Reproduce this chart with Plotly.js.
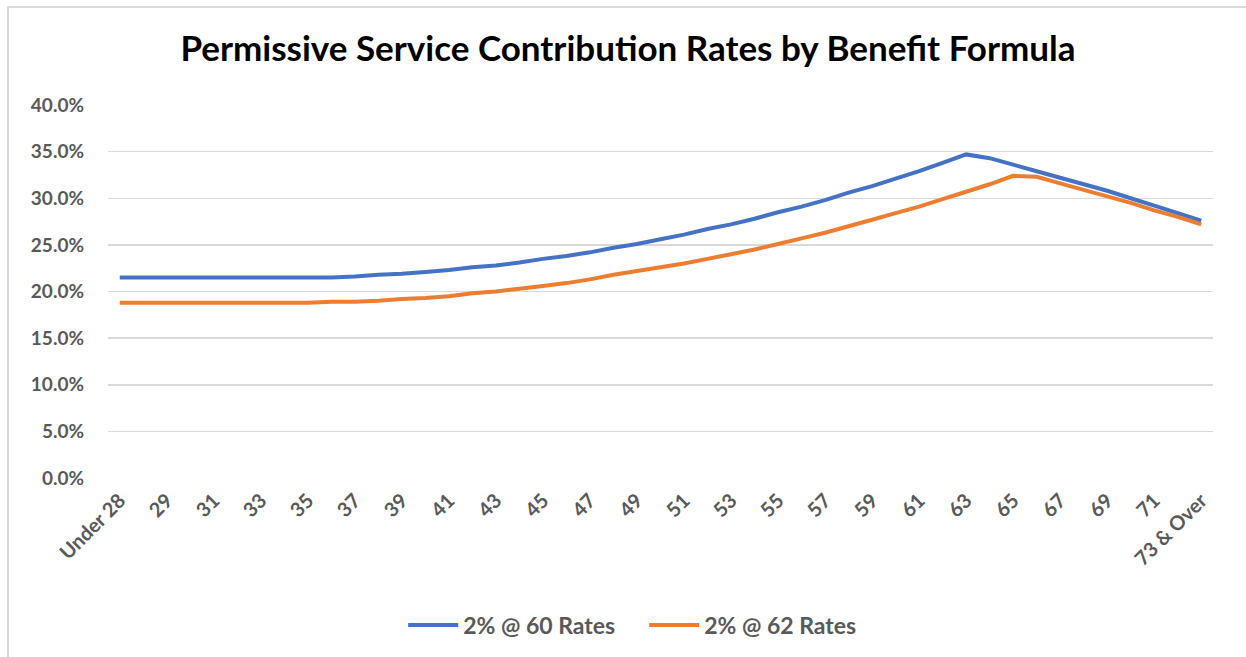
<!DOCTYPE html>
<html>
<head>
<meta charset="utf-8">
<script src="https://cdn.plot.ly/plotly-3.0.1.min.js"></script>
<style>
  html, body { margin: 0; padding: 0; background: #fff; }
  #frame { position: absolute; left: 7px; top: 6px; width: 1250px; height: 660px;
           border-left: 2px solid #d9d9d9; border-top: 2px solid #d9d9d9; pointer-events: none; z-index: 5; }
  #chart { width: 1246px; height: 657px; }
</style>
</head>
<body>
<div id="frame"></div>
<div id="chart"></div>
<script>
// Categories: Under 28, 28 ... 72, 73 & Over
const ages = ["Under 28"];
for (let a = 28; a <= 72; a++) ages.push(String(a));
ages.push("73 & Over");

const rates60 = [
  21.5, 21.5, 21.5, 21.5, 21.5, 21.5, 21.5, 21.5, 21.5, 21.5, // <28..36
  21.6, 21.8, 21.9, 22.1, 22.3, 22.6, 22.8, 23.1, 23.5, 23.8, // 37..46
  24.2, 24.7, 25.1, 25.6, 26.1, 26.7, 27.2, 27.8, 28.5, 29.1, // 47..56
  29.8, 30.6, 31.3, 32.1, 32.9, 33.8, 34.7, 34.3, 33.6, 32.9, // 57..66
  32.2, 31.5, 30.8, 30.0, 29.2, 28.4, 27.6                    // 67..73&O
];
const rates62 = [
  18.8, 18.8, 18.8, 18.8, 18.8, 18.8, 18.8, 18.8, 18.8, 18.9, // <28..36
  18.9, 19.0, 19.2, 19.3, 19.5, 19.8, 20.0, 20.3, 20.6, 20.9, // 37..46
  21.3, 21.8, 22.2, 22.6, 23.0, 23.5, 24.0, 24.5, 25.1, 25.7, // 47..56
  26.3, 27.0, 27.7, 28.4, 29.1, 29.9, 30.7, 31.5, 32.4, 32.3, // 57..66
  31.6, 30.9, 30.2, 29.5, 28.7, 28.0, 27.2                    // 67..73&O
];
const seriesNames = ["2% @ 60 Rates", "2% @ 62 Rates"];
const yTickVals = [0, 5, 10, 15, 20, 25, 30, 35, 40];

const xTickVals = ages.filter((_, i) => i % 2 === 0);
const toFrac = arr => arr.map(v => v / 100);

const FONT = "Lato, 'Open Sans', sans-serif";
const GREY = "#595959";

const traces = [
  { x: ages, y: toFrac(rates60), name: seriesNames[0], type: "scatter", mode: "lines",
    line: { color: "#4472C4", width: 4, simplify: false } },
  { x: ages, y: toFrac(rates62), name: seriesNames[1], type: "scatter", mode: "lines",
    line: { color: "#ED7D31", width: 4, simplify: false } }
];

const layout = {
  width: 1246, height: 657,
  margin: { l: 108, r: 33, t: 105, b: 179 },
  paper_bgcolor: "#fff", plot_bgcolor: "#fff",
  title: { text: "Permissive Service Contribution Rates by Benefit Formula",
           font: { family: FONT, size: 35, color: "#000", weight: "bold" },
           x: 0.504, xanchor: "center", y: 1 - 49/657, yanchor: "middle", yref: "container" },
  xaxis: {
    type: "category", categoryorder: "array", categoryarray: ages,
    range: [-0.5, ages.length - 0.5],
    tickmode: "array", tickvals: xTickVals, ticktext: xTickVals,
    tickangle: -45, ticks: "", showgrid: false, zeroline: false, showline: false,
    tickfont: { family: FONT, size: 20, color: GREY, weight: "bold" },
    ticklabelstandoff: 6
  },
  yaxis: {
    range: [0, 0.40], tickmode: "array", tickvals: yTickVals.map(v => v / 100),
    tickformat: ".1%", showgrid: true, gridcolor: "#d9d9d9", gridwidth: 1.5,
    zeroline: false, showline: false, ticks: "",
    tickfont: { family: FONT, size: 19, color: GREY, weight: "bold" },
    ticklabelstandoff: 23
  },
  legend: { orientation: "h", x: 0.517, xanchor: "center", xref: "container",
            y: 1 - 625/657, yanchor: "middle", yref: "container",
            font: { family: FONT, size: 23, color: GREY, weight: "bold" },
            itemwidth: 50, entrywidth: 176, tracegroupgap: 0 },
  showlegend: true
};

Plotly.newPlot("chart", traces, layout, { displayModeBar: false, staticPlot: true });
</script>
</body>
</html>
